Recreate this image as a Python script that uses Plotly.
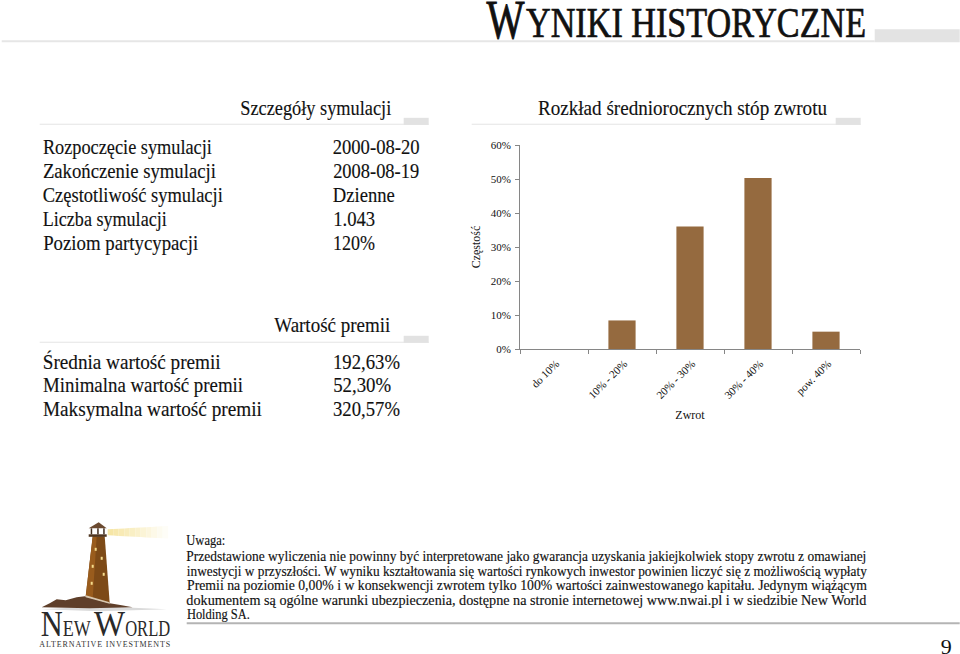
import json
import plotly.graph_objects as go

# ---------- data ----------
return_bins = ["do 10%", "10% - 20%", "20% - 30%", "30% - 40%", "pow. 40%"]
frequency = [0.0, 0.084, 0.36, 0.503, 0.051]
y_ticks = [0, 0.1, 0.2, 0.3, 0.4, 0.5, 0.6]

main_title_rest = "YNIKI HISTORYCZNE"
details_title = "Szczegóły symulacji"
details_labels = ["Rozpoczęcie symulacji", "Zakończenie symulacji", "Częstotliwość symulacji",
                  "Liczba symulacji", "Poziom partycypacji"]
details_values = ["2000-08-20", "2008-08-19", "Dzienne", "1.043", "120%"]
premium_title = "Wartość premii"
premium_labels = ["Średnia wartość premii", "Minimalna wartość premii", "Maksymalna wartość premii"]
premium_values = ["192,63%", "52,30%", "320,57%"]
chart_title = "Rozkład średniorocznych stóp zwrotu"
note_lines = [
    "Uwaga:",
    "Przedstawione wyliczenia nie powinny być interpretowane jako gwarancja uzyskania jakiejkolwiek stopy zwrotu z omawianej",
    "inwestycji w przyszłości. W wyniku kształtowania się wartości rynkowych inwestor powinien liczyć się z możliwością wypłaty",
    "Premii na poziomie 0,00% i w konsekwencji zwrotem tylko 100% wartości zainwestowanego kapitału. Jedynym wiążącym",
    "dokumentem są ogólne warunki ubezpieczenia, dostępne na stronie internetowej www.nwai.pl i w siedzibie New World",
    "Holding SA.",
]

# ---------- layout helpers ----------
W, H = 960, 654
L, R, T, B = 520.3, 860.3, 144.7, 348.7
FONT = "Liberation Serif"
INK = "#111111"

def X(px):
    return (px - L) / (R - L)

def Y(py):
    return (B - py) / (B - T)

annotations, fits, shapes = [], [], []

def text(x0, x1, yc, s, size, color=INK, adjust="spacingAndGlyphs", stroke=0.0):
    annotations.append(dict(
        text=s, x=X((x0 + x1) / 2), y=Y(yc), xref="paper", yref="paper",
        xanchor="center", yanchor="middle", showarrow=False,
        font=dict(family=FONT, size=size, color=color),
    ))
    fits.append([x1 - x0, adjust, stroke, color])

def rect(x0, y0, x1, y1, color):
    shapes.append(dict(type="rect", xref="paper", yref="paper", x0=X(x0), x1=X(x1),
                       y0=Y(y0), y1=Y(y1), fillcolor=color, line=dict(width=0), layer="below"))

def poly(points, color):
    path = "M" + " L".join(f"{X(a):.5f},{Y(b):.5f}" for a, b in points) + " Z"
    shapes.append(dict(type="path", xref="paper", yref="paper", path=path,
                       fillcolor=color, line=dict(width=0), layer="below"))

# ---------- header ----------
rect(2, 40, 875, 42, "#e6e6e6")
rect(875, 29, 960, 42, "#e3e3e3")
text(487, 525, 20, "W", 54, stroke=0.9)
text(526, 866, 22.5, main_title_rest, 42, stroke=0.7)

# ---------- section rules ----------
for x0, x1, y in [(40, 429, 123.5), (472, 861, 123.5), (40, 429, 341.5)]:
    rect(x0, y, x1, y + 1, "#e4e4e4")
    rect(x1 - 25, y - 6, x1, y + 1, "#e2e2e2")

text(240, 391, 107.5, details_title, 22, stroke=0.15)
text(538, 827, 107.5, chart_title, 22, stroke=0.15)
text(274, 390, 324.5, premium_title, 22, stroke=0.15)

# ---------- detail rows ----------
label_ends = [212, 216, 223, 167, 198]
value_ends = [420, 419, 395, 375, 375]
for i, (a, b) in enumerate(zip(details_labels, details_values)):
    yc = 146.5 + i * 24
    text(43, label_ends[i], yc, a, 21.5, stroke=0.15)
    text(333, value_ends[i], yc, b, 21.5, stroke=0.15)

premium_label_ends = [221, 243, 262]
premium_value_ends = [400, 391, 400]
for i, (a, b) in enumerate(zip(premium_labels, premium_values)):
    yc = 361.5 + i * 23.5
    text(43, premium_label_ends[i], yc, a, 21.5, stroke=0.15)
    text(333, premium_value_ends[i], yc, b, 21.5, stroke=0.15)

# ---------- note ----------
note_ends = [226, 867, 867, 867, 867, 250]
note_y = [540.5, 556.5, 571, 585.5, 600, 614.5]
for s, e, y in zip(note_lines, note_ends, note_y):
    text(187, e, y, s, 14, stroke=0.15)
rect(187, 622, 960, 624, "#b4b4b4")
text(941, 952, 647, "9", 21)

# ---------- logo ----------
beam = ["#f6e6a6", "#f7e8ad", "#f8eab5", "#f8ecbc", "#f9efc4", "#faf1cc",
        "#fbf4d6", "#fcf6de", "#fdf9e8", "#fdfbf0", "#fefdf7"]
for k, shade in enumerate(beam):
    x0 = 108 + k * 5.5
    poly([(x0, 529 - k * 0.3), (x0 + 5.5, 529 - (k + 1) * 0.3),
          (x0 + 5.5, 535 + (k + 1) * 0.3), (x0, 535 + k * 0.3)], shade)
poly([(42, 609), (100, 606), (167, 609), (100, 611)], "#dadada")
poly([(42, 607), (50, 603), (57, 599), (66, 600), (77, 597), (85, 596), (110, 603),
      (122, 605), (133, 607), (90, 608)], "#5f3f2a")
poly([(86, 596), (93, 536), (105, 536), (110, 603)], "#7d4a17")
poly([(86, 596), (93, 536), (97, 536), (93, 598)], "#995c1d")
poly([(86, 595), (110, 602), (110, 603.5), (86, 597)], "#d8c8b0")
rect(89, 534, 107, 536.5, "#4f3621")
rect(91, 528, 92.5, 534, "#3f2c1d")
rect(97.5, 528, 99, 534, "#3f2c1d")
rect(103.5, 528, 105, 534, "#3f2c1d")
poly([(99, 522), (107, 528), (89, 528)], "#6b4a30")
for wx, wy in [(96, 549), (102, 558), (93, 566), (104, 574), (92, 583)]:
    rect(wx - 1, wy - 1.5, wx + 1, wy + 1.5, "#f5dc8c")
text(41, 63, 624.5, "N", 35, "#2a2a2a")
text(63, 91, 628, "EW", 24, "#2a2a2a")
text(94, 125, 624.5, "W", 35, "#2a2a2a")
text(125, 170, 628, "ORLD", 24, "#2a2a2a")
text(39, 170, 644, "ALTERNATIVE INVESTMENTS", 8, "#333333", "spacing")

# ---------- chart ----------
axis_common = dict(
    showline=True, linecolor="#868686", linewidth=1,
    ticks="outside", tickcolor="#868686", ticklen=4,
    showgrid=False, zeroline=False,
    tickfont=dict(family=FONT, size=11, color=INK),
)

fig = go.Figure(go.Bar(x=return_bins, y=frequency, marker=dict(color="#956a3f", line=dict(width=0))))

fig.update_layout(
    width=W, height=H, autosize=False,
    margin=dict(l=L, r=W - R, t=T, b=H - B),
    paper_bgcolor="white", plot_bgcolor="white",
    bargap=0.6, showlegend=False,
    annotations=annotations, shapes=shapes,
    xaxis=dict(
        **axis_common, type="category", tickson="boundaries", tickangle=-45,
        ticklabelshift=2, ticklabelstandoff=3,
        title=dict(text="Zwrot", font=dict(family=FONT, size=12, color=INK), standoff=10),
    ),
    yaxis=dict(
        **axis_common, range=[0, 0.6], tickvals=y_ticks, tickformat=".0%",
        ticklabelstandoff=2,
        title=dict(text="Częstość", font=dict(family=FONT, size=12, color=INK), standoff=7),
    ),
)

# Fit every text to the condensed widths of the reference page.
post = """
document.body.style.margin = '0';
document.body.style.overflow = 'hidden';
var fit = %s;
document.querySelectorAll('.annotation').forEach(function (a) {
  var f = fit[+a.getAttribute('data-index')];
  var t = a.querySelector('text');
  if (f && t) {
    var cx = parseFloat(t.getAttribute('x'));
    t.setAttribute('x', cx - f[0] / 2);
    t.style.textAnchor = 'start';
    t.setAttribute('textLength', f[0]);
    t.setAttribute('lengthAdjust', f[1]);
    if (f[2] > 0) { t.style.stroke = f[3]; t.style.strokeWidth = f[2] + 'px'; }
  }
});
""" % json.dumps(fits)

fig.write_html("out.html", post_script=post, config={"displayModeBar": False})
